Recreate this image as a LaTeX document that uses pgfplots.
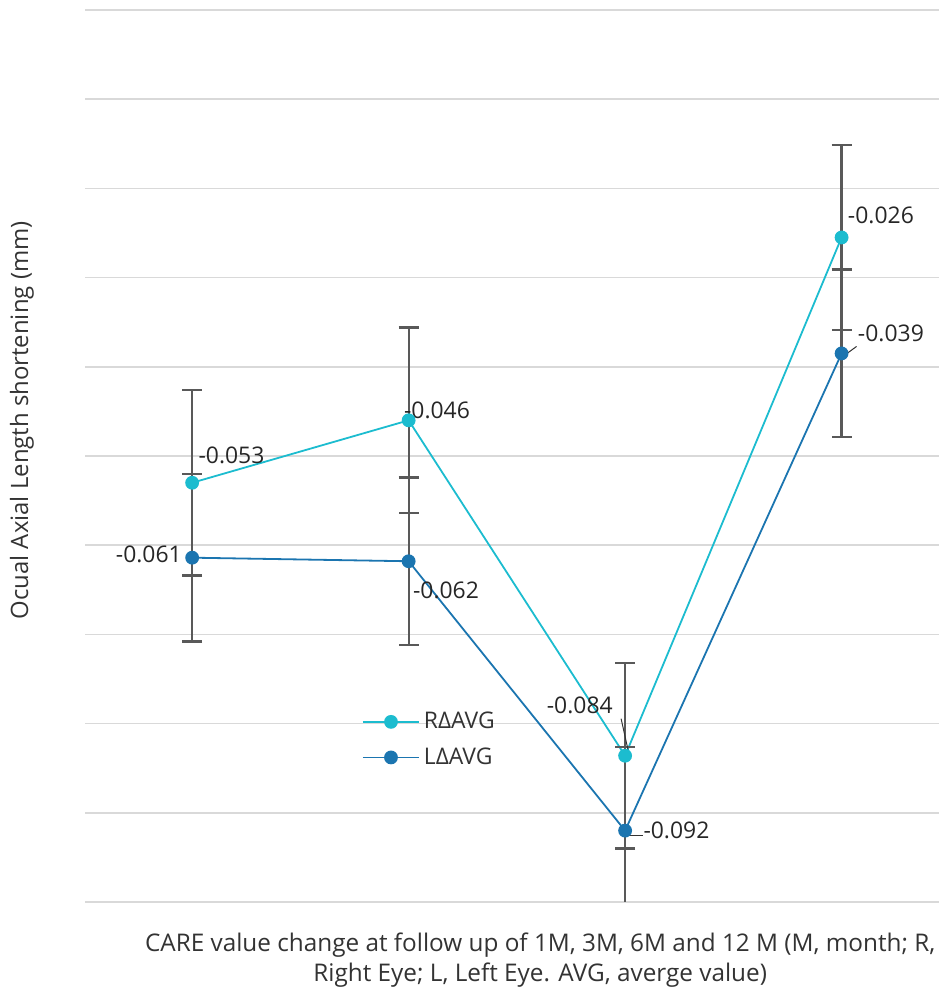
\documentclass[border=0pt]{standalone}
\usepackage{pgfplots}
\pgfplotsset{compat=1.18}
\usepackage{fontspec}
\setmainfont{Open Sans}
\definecolor{rcol}{HTML}{1CBCCF}
\definecolor{lcol}{HTML}{1B75B0}
\definecolor{errc}{HTML}{595959}
\definecolor{gridc}{HTML}{D9D9D9}
\begin{document}
\begin{tikzpicture}
\useasboundingbox (0,0) rectangle (469.5bp,495.5bp);
\begin{axis}[
  at={(42.5bp,44.5bp)}, anchor=south west,
  scale only axis, width=427bp, height=446bp,
  xmin=0.505, xmax=4.45, ymin=-0.1, ymax=0,
  axis line style={draw=none},
  xtick=\empty,
  ytick={-0.1,-0.09,-0.08,-0.07,-0.06,-0.05,-0.04,-0.03,-0.02,-0.01,0},
  yticklabels={}, major tick length=0pt,
  ymajorgrids, grid style={gridc, line width=0.8bp},
  font=\fontsize{11.5}{14}\selectfont,
  ylabel={Ocual Axial Length shortening (mm)},
  ylabel style={at={(axis description cs:-0.0738,0.54)}, anchor=center, font=\fontsize{12}{14}\selectfont, color=black!80},
  xlabel={CARE value change at follow up of 1M, 3M, 6M and 12 M (M, month; R,\\Right Eye; L, Left Eye. AVG, averge value)},
  xlabel style={at={(axis description cs:0.533,-0.065)}, anchor=center, align=center, font=\fontsize{12.2}{15}\selectfont, color=black!80},
  legend style={draw=none, fill=none, at={(0.317,0.182)}, anchor=west, font=\fontsize{11.5}{14}\selectfont, row sep=4bp, text=black!80},
  legend cell align=left,
  legend image code/.code={\draw[mark repeat=2,mark phase=2,#1] plot coordinates {(0bp,0bp)(14bp,0bp)(28bp,0bp)};},
  error bars/y dir=both, error bars/y explicit,
  error bars/error bar style={errc, line width=1.1bp},
  error bars/error mark options={rotate=90, mark size=5bp, errc, line width=1.1bp},
]
\addplot[rcol, line width=0.9bp, mark=*, mark size=3bp, mark options={solid, fill=rcol, draw=rcol}]
  coordinates {(1,-0.053) +- (0,0.0104) (2,-0.046) +- (0,0.0104) (3,-0.0836) +- (0,0.0104) (4,-0.0255) +- (0,0.0104)};
\addlegendentry{RΔAVG}
\addplot[lcol, line width=0.9bp, mark=*, mark size=3bp, mark options={solid, fill=lcol, draw=lcol}]
  coordinates {(1,-0.0614) +- (0,0.0094) (2,-0.0618) +- (0,0.0094) (3,-0.092) +- (0,0.0094) (4,-0.0385) +- (0,0.0094)};
\addlegendentry{LΔAVG}
\begin{scope}[every node/.style={font=\fontsize{11.5}{14}\selectfont, text=black!85, inner sep=0pt}]
\node[anchor=west] at ([xshift=3bp,yshift=13.5bp]axis cs:1,-0.053) {-0.053};
\node[anchor=east] at ([xshift=-5bp,yshift=1.5bp]axis cs:1,-0.0614) {-0.061};
\node[anchor=west] at ([xshift=-2.5bp,yshift=5bp]axis cs:2,-0.046) {-0.046};
\node[anchor=west] at ([xshift=2bp,yshift=-14.5bp]axis cs:2,-0.0618) {-0.062};
\node[anchor=east] at ([xshift=-6bp,yshift=25bp]axis cs:3,-0.0836) {-0.084};
\node[anchor=west] at ([xshift=9bp,yshift=0bp]axis cs:3,-0.092) {-0.092};
\node[anchor=west] at ([xshift=3bp,yshift=11bp]axis cs:4,-0.0255) {-0.026};
\node[anchor=west] at ([xshift=8bp,yshift=10bp]axis cs:4,-0.0385) {-0.039};
\end{scope}
\draw[black!80, line width=0.5bp] ([xshift=-2bp,yshift=18.5bp]axis cs:3,-0.0836) -- ([xshift=2bp,yshift=0.5bp]axis cs:3,-0.0836);
\draw[black!80, line width=0.5bp] ([xshift=1bp,yshift=-2.5bp]axis cs:3,-0.092) -- ([xshift=9bp,yshift=-2.5bp]axis cs:3,-0.092);
\draw[black!80, line width=0.5bp] ([xshift=0bp,yshift=-2bp]axis cs:4,-0.0385) -- ([xshift=7.5bp,yshift=3.5bp]axis cs:4,-0.0385);
\end{axis}
\end{tikzpicture}
\end{document}
